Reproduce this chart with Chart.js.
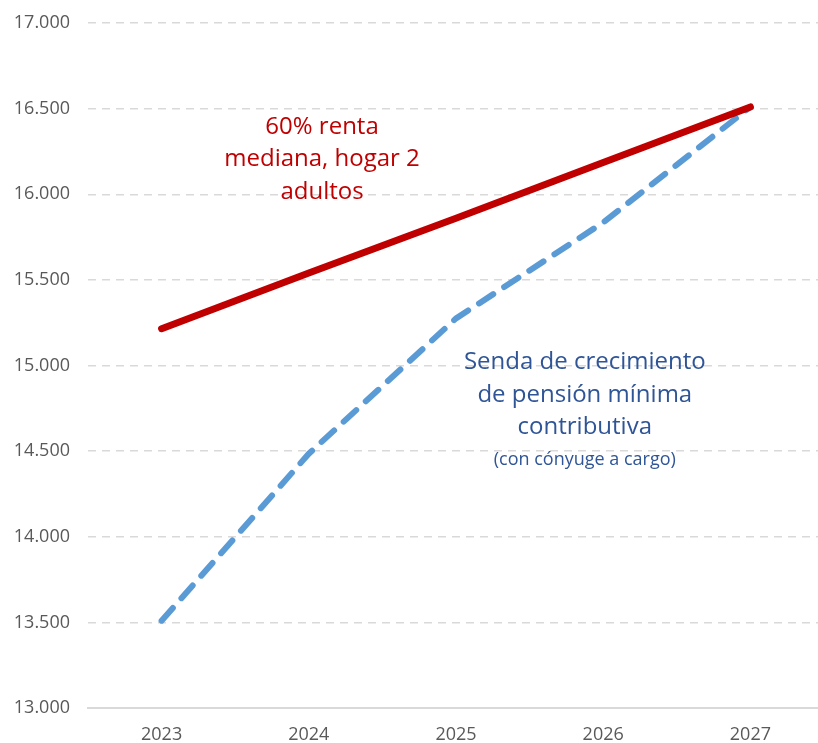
<!DOCTYPE html>
<html>
<head>
<meta charset="utf-8">
<script src="https://cdn.jsdelivr.net/npm/chart.js@4"></script>
<style>
  html, body { margin: 0; padding: 0; background: #fff; overflow: hidden; }
  #wrap { width: 824px; height: 743px; }
</style>
</head>
<body>
<div id="wrap"><canvas id="chart"></canvas></div>
<script>
const years = ["2023", "2024", "2025", "2026", "2027"];
const rentaMediana = [15215, 15540, 15860, 16185, 16510];
const pensionMinima = [13510, 14485, 15275, 15835, 16510];
const yTicks = [13000, 13500, 14000, 14500, 15000, 15500, 16000, 16500, 17000];

const red = "#c00000";
const blue = "#5b9bd5";
const grey = "#595959";

// labels drawn over the plot, anchored to data coordinates
const notes = [
  { x: 1.09, y: 16392, color: red, lines: [["60% renta", 24], ["mediana, hogar 2", 24], ["adultos", 24]] },
  { x: 2.875, y: 15018, color: "#2f5597", lines: [["Senda de crecimiento", 24], ["de pensión mínima", 24], ["contributiva", 24], ["(con cónyuge a cargo)", 18]] },
];

const notePlugin = {
  id: "notes",
  afterDatasetsDraw(chart) {
    const ctx = chart.ctx;
    const xs = chart.scales.x, ys = chart.scales.y;
    ctx.save();
    ctx.textAlign = "center";
    ctx.textBaseline = "middle";
    for (const n of notes) {
      let cx = xs.getPixelForValue(n.x);
      let cy = ys.getPixelForValue(n.y);
      n.lines.forEach(([txt, size], i) => {
        ctx.font = size + "px 'Open Sans', sans-serif";
        ctx.fillStyle = n.color;
        ctx.fillText(txt, cx, cy + i * 32.5);
      });
    }
    ctx.restore();
  },
};

new Chart(document.getElementById("chart"), {
  type: "line",
  data: {
    labels: years,
    datasets: [
      {
        label: "60% renta mediana, hogar 2 adultos",
        data: rentaMediana,
        borderColor: red,
        borderWidth: 7,
        borderCapStyle: "round",
        pointRadius: 0,
        tension: 0,
      },
      {
        label: "Senda de crecimiento de pensión mínima contributiva",
        data: pensionMinima,
        borderColor: blue,
        borderWidth: 6,
        borderDash: [17, 13],
        borderCapStyle: "round",
        pointRadius: 0,
        tension: 0,
      },
    ],
  },
  options: {
    responsive: true,
    maintainAspectRatio: false,
    animation: false,
    layout: { padding: { top: 23, right: 0, bottom: 0, left: 0 } },
    plugins: { legend: { display: false }, tooltip: { enabled: false } },
    scales: {
      x: {
        offset: true,
        grid: { display: false },
        border: { color: "#d9d9d9", width: 2 },
        ticks: { color: grey, font: { family: "'Open Sans', sans-serif", size: 18 }, padding: 8 },
        afterFit: (s) => { s.height = 35; s.paddingLeft = 0; s.paddingRight = 0; },
      },
      y: {
        min: 13000,
        max: 17000,
        afterBuildTicks: (s) => { s.ticks = yTicks.map((v) => ({ value: v })); },
        grid: {
          color: (c) => (c.tick && c.tick.value === 13000 ? "rgba(0,0,0,0)" : "#d9d9d9"),
          lineWidth: 1.5,
          drawTicks: false,
        },
        border: { display: false, dash: [8, 6] },
        ticks: {
          color: grey,
          padding: 18,
          font: { family: "'Open Sans', sans-serif", size: 18 },
          callback: (v) => v.toLocaleString("de-DE"),
        },
        afterFit: (s) => { s.width = 88; s.paddingTop = 0; s.paddingBottom = 0; },
      },
    },
  },
  plugins: [notePlugin],
});
</script>
</body>
</html>
